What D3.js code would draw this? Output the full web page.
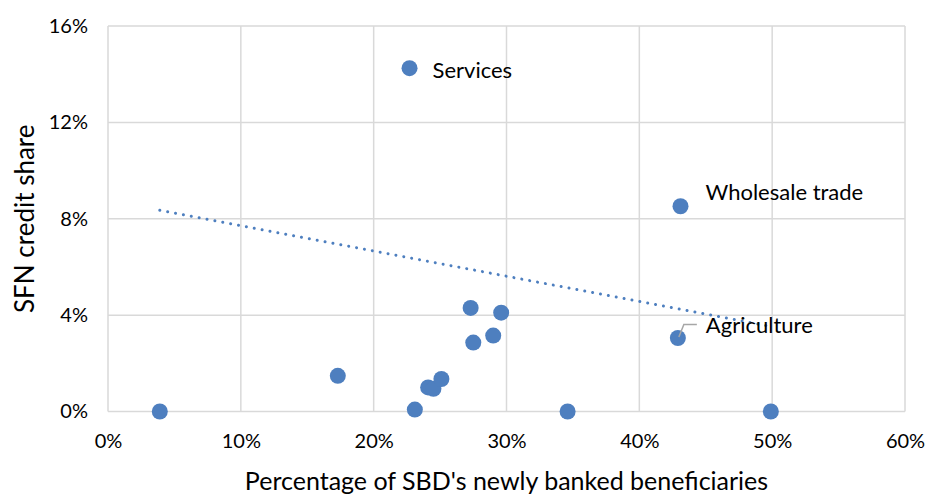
<!DOCTYPE html>
<html>
<head>
<meta charset="utf-8">
<script src="https://cdn.jsdelivr.net/npm/d3@7"></script>
<style>
  html, body { margin: 0; padding: 0; background: #fff; }
  svg { display: block; }
  text { font-family: Lato, "Open Sans", sans-serif; fill: #000; }
</style>
</head>
<body>
<svg id="chart" width="927" height="494"></svg>
<script>
// Sector data: share of newly banked beneficiaries (x, %) vs SFN credit share (y, %)
const sectors = ["", "", "Services", "", "", "", "", "", "", "", "", "", "Wholesale trade", "Agriculture", ""];
const beneficiaryPct = [3.9, 17.3, 22.7, 23.1, 24.1, 24.5, 25.1, 27.3, 27.5, 29.0, 29.6, 34.6, 43.1, 42.9, 49.9];
const creditSharePct = [0.0, 1.48, 14.25, 0.08, 1.0, 0.94, 1.35, 4.3, 2.86, 3.15, 4.1, 0.0, 8.52, 3.05, 0.0];

// Linear trend line endpoints
const trendX = [3.9, 49.9];
const trendY = [8.35, 3.53];

// Axis ticks
const xTicks = [0, 10, 20, 30, 40, 50, 60];
const yTicks = [0, 4, 8, 12, 16];

const svg = d3.select("#chart");
const plot = { left: 108, right: 905, top: 26, bottom: 411.5 };

const x = d3.scaleLinear().domain([0, 60]).range([plot.left, plot.right]);
const y = d3.scaleLinear().domain([0, 16]).range([plot.bottom, plot.top]);

const grid = "#d9d9d9";
const blue = "#4e7fbf";

// Gridlines
svg.append("g")
  .selectAll("line")
  .data(xTicks)
  .join("line")
  .attr("x1", d => x(d)).attr("x2", d => x(d))
  .attr("y1", plot.top).attr("y2", plot.bottom)
  .attr("stroke", grid).attr("stroke-width", 1.5);

svg.append("g")
  .selectAll("line")
  .data(yTicks)
  .join("line")
  .attr("x1", plot.left).attr("x2", plot.right)
  .attr("y1", d => y(d)).attr("y2", d => y(d))
  .attr("stroke", grid).attr("stroke-width", 1.5);

// Axes (labels only; the gridlines serve as axis lines)
const xAxis = d3.axisBottom(x).tickValues(xTicks).tickFormat(d => d + "%").tickSize(0).tickPadding(22);
const yAxis = d3.axisLeft(y).tickValues(yTicks).tickFormat(d => d + "%").tickSize(0).tickPadding(20);

const gx = svg.append("g").attr("transform", `translate(0,${plot.bottom})`).call(xAxis);
const gy = svg.append("g").attr("transform", `translate(${plot.left},0)`).call(yAxis);
[gx, gy].forEach(g => {
  g.select(".domain").remove();
  g.selectAll("text").attr("font-size", 20).attr("font-family", "Lato, 'Open Sans', sans-serif").attr("fill", "#000");
});

// Axis titles
svg.append("text")
  .attr("x", (plot.left + plot.right) / 2)
  .attr("y", 490)
  .attr("text-anchor", "middle")
  .attr("font-size", 25)
  .text("Percentage of SBD's newly banked beneficiaries");

svg.append("text")
  .attr("transform", `translate(34,${(plot.top + plot.bottom) / 2}) rotate(-90)`)
  .attr("text-anchor", "middle")
  .attr("font-size", 26)
  .text("SFN credit share");

// Dotted trend line
svg.append("line")
  .attr("x1", x(trendX[0])).attr("y1", y(trendY[0]))
  .attr("x2", x(trendX[1])).attr("y2", y(trendY[1]))
  .attr("stroke", blue)
  .attr("stroke-width", 3)
  .attr("stroke-linecap", "round")
  .attr("stroke-dasharray", "0.01 8");

// Points
const points = beneficiaryPct.map((v, i) => ({ x: v, y: creditSharePct[i], name: sectors[i] }));
svg.append("g")
  .selectAll("circle")
  .data(points)
  .join("circle")
  .attr("cx", d => x(d.x))
  .attr("cy", d => y(d.y))
  .attr("r", 8)
  .attr("fill", blue);

// Data labels, offset from their points
const labelOffset = {
  "Services": [23, 2],
  "Wholesale trade": [25, -14],
  "Agriculture": [28, -13]
};
const labelled = points.filter(d => d.name);

// Leader line for Agriculture
const agri = labelled.find(d => d.name === "Agriculture");
svg.append("polyline")
  .attr("points", [
    [x(agri.x) + 1, y(agri.y) - 1],
    [x(agri.x) + 6, y(agri.y) - 13.5],
    [x(agri.x) + 19, y(agri.y) - 13.5]
  ].map(p => p.join(",")).join(" "))
  .attr("fill", "none")
  .attr("stroke", "#a6a6a6")
  .attr("stroke-width", 1.5);

svg.append("g")
  .selectAll("text")
  .data(labelled)
  .join("text")
  .attr("x", d => x(d.x) + labelOffset[d.name][0])
  .attr("y", d => y(d.y) + labelOffset[d.name][1])
  .attr("dy", "0.35em")
  .attr("font-size", 22)
  .text(d => d.name);
</script>
</body>
</html>
